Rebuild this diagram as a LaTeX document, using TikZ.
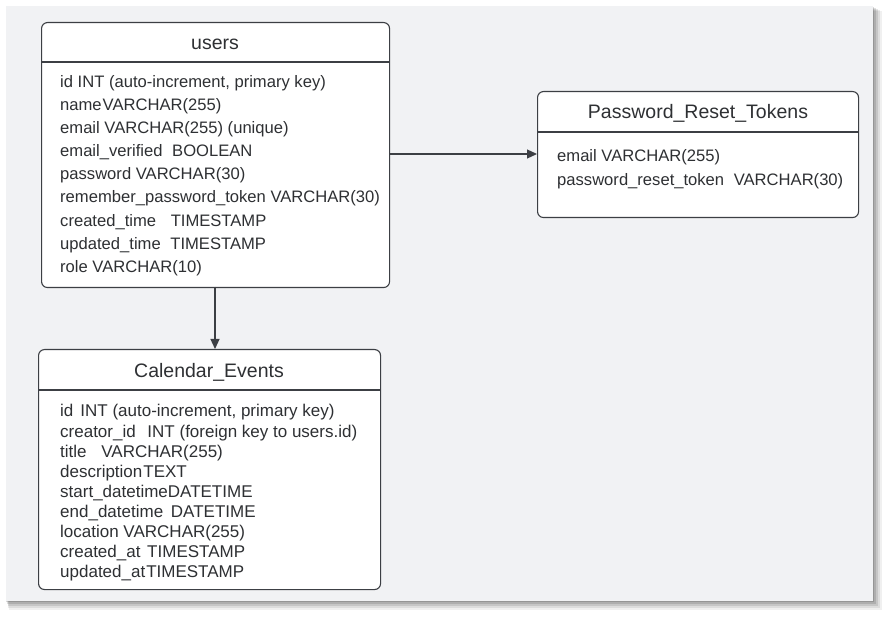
\documentclass[tikz,border=0pt]{standalone}
\usepackage{fontspec}
\setmainfont{Liberation Sans}
\usetikzlibrary{arrows.meta}
\definecolor{panel}{HTML}{F1F2F4}
\definecolor{edge}{HTML}{3C3F44}
\definecolor{txt}{HTML}{2E3033}
\tikzset{
  tablebox/.style={draw=edge, line width=1.1pt, fill=white, rounded corners=6pt, anchor=north west, inner sep=0pt},
  divider/.style={draw=edge, line width=1.1pt},
  titletext/.style={font=\fontsize{19.5}{21}\selectfont, text=txt, inner sep=0pt},
  rowtext/.style={anchor=west, font=\fontsize{16.6}{18}\selectfont, text=txt, inner sep=0pt},
  calrow/.style={rowtext, font=\fontsize{17}{18}\selectfont},
  link/.style={draw=edge, line width=1.2pt, -{Triangle[length=10pt,width=9pt]}}
}
\begin{document}
\begin{tikzpicture}[x=1pt,y=-1pt]
\useasboundingbox (0,0) rectangle (892,620);
% shadow
\foreach \d/\op in {9/0.06,7/0.08,5/0.1,3/0.12,1/0.14}{
  \fill[black,opacity=\op] (6+\d*0.3,6+\d*0.6) rectangle (873+\d,601+\d);
}
\fill[panel] (6,6) rectangle (873,601);

% users table
\node[tablebox, minimum width=348pt, minimum height=265pt] (users) at (41,22) {};
\coordinate (usersdiv) at (41,62);
\draw[divider] (usersdiv) -- (usersdiv -| users.east);
\node[titletext] (userstitle) at (215,44) {users};
\node[rowtext] (u1) at (60,83) {id INT (auto-increment, primary key)};
\node[rowtext] (u2) at (60,106) {name\hspace{1pt}VARCHAR(255)};
\node[rowtext] (u3) at (60,129) {email VARCHAR(255) (unique)};
\node[rowtext] (u4) at (60,152) {email\_verified\hspace{5pt} BOOLEAN};
\node[rowtext] (u5) at (60,175) {password VARCHAR(30)};
\node[rowtext] (u6) at (60,198) {remember\_password\_token VARCHAR(30)};
\node[rowtext] (u7) at (60,222) {created\_time\hspace{10pt} TIMESTAMP};
\node[rowtext] (u8) at (60,245) {updated\_time\hspace{5pt} TIMESTAMP};
\node[rowtext] (u9) at (60,268) {role VARCHAR(10)};

% password reset tokens table
\node[tablebox, minimum width=321pt, minimum height=126pt] (prt) at (537,91) {};
\coordinate (prtdiv) at (537,132);
\draw[divider] (prtdiv) -- (prtdiv -| prt.east);
\node[titletext] (prttitle) at (698,113) {Password\_Reset\_Tokens};
\node[rowtext] (p1) at (557,157) {email VARCHAR(255)};
\node[rowtext] (p2) at (557,181) {password\_reset\_token\hspace{5pt} VARCHAR(30)};

% calendar events table
\node[tablebox, minimum width=342pt, minimum height=240pt] (cal) at (38,349) {};
\coordinate (caldiv) at (38,390);
\draw[divider] (caldiv) -- (caldiv -| cal.east);
\node[titletext] (caltitle) at (209,372) {Calendar\_Events};
\node[calrow] (c1) at (60,412) {id\hspace{7pt}INT (auto-increment, primary key)};
\node[calrow] (c2) at (60,433) {creator\_id\hspace{7pt} INT (foreign key to users.id)};
\node[calrow] (c3) at (60,453) {title\hspace{10pt} VARCHAR(255)};
\node[calrow] (c4) at (60,473) {description\hspace{1pt}TEXT};
\node[calrow] (c5) at (60,493) {start\_datetime\hspace{0pt}DATETIME};
\node[calrow] (c6) at (60,513) {end\_datetime\hspace{3pt} DATETIME};
\node[calrow] (c7) at (60,533) {location VARCHAR(255)};
\node[calrow] (c8) at (60,553) {created\_at\hspace{2pt} TIMESTAMP};
\node[calrow] (c9) at (60,573) {updated\_at\hspace{1pt}TIMESTAMP};

% connectors
\coordinate (ufrom) at (389,154);
\draw[link] (ufrom) -- (ufrom -| prt.west);
\coordinate (dfrom) at (215,287);
\draw[link] (dfrom) -- (dfrom |- cal.north);
\end{tikzpicture}
\end{document}
